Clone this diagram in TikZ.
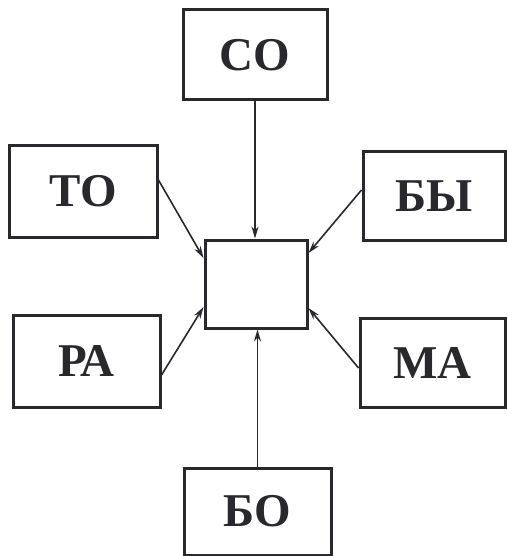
\documentclass[tikz,border=0pt]{standalone}
\usepackage{fontspec}
\setmainfont{Liberation Serif}
\usetikzlibrary{arrows.meta}
\definecolor{ink}{RGB}{40,40,45}
\begin{document}
\begin{tikzpicture}[x=1pt,y=-1pt,
  box/.style={draw=ink,line width=3pt,minimum width=#1,inner sep=0pt,
    font=\fontsize{47}{47}\selectfont\bfseries,text=ink},
  conn/.style={draw=ink,line width=1.6pt,-{Stealth[length=12pt,width=7pt]}}]
\useasboundingbox (0,0) rectangle (507,556);
\node[box=144pt,minimum height=90pt] (co) at (255,55) {СО};
\node[box=148pt,minimum height=91pt] (to) at (83,191.5) {ТО};
\node[box=142pt,minimum height=88pt] (by) at (434,196) {БЫ};
\node[box=102pt,minimum height=88pt] (c) at (256,284) {};
\node[box=147pt,minimum height=92pt] (ra) at (86.5,361) {РА};
\node[box=145pt,minimum height=89pt] (ma) at (432.5,362.5) {МА};
\node[box=147pt,minimum height=87pt] (bo) at (257.5,511.5) {БО};
\draw[conn] (co.south) -- (co.south |- c.north);
\draw[conn] ([yshift=11.5pt]to.east) -- ([yshift=26pt]c.west);
\draw[conn] ([yshift=6pt]by.west) -- ([yshift=31pt]c.east);
\draw[conn] ([yshift=-14pt]ra.east) -- ([yshift=-23pt]c.west);
\draw[conn] ([yshift=-5.5pt]ma.west) -- ([yshift=-24pt]c.east);
\draw[conn] (bo.north) -- (bo.north |- c.south);
\end{tikzpicture}
\end{document}
